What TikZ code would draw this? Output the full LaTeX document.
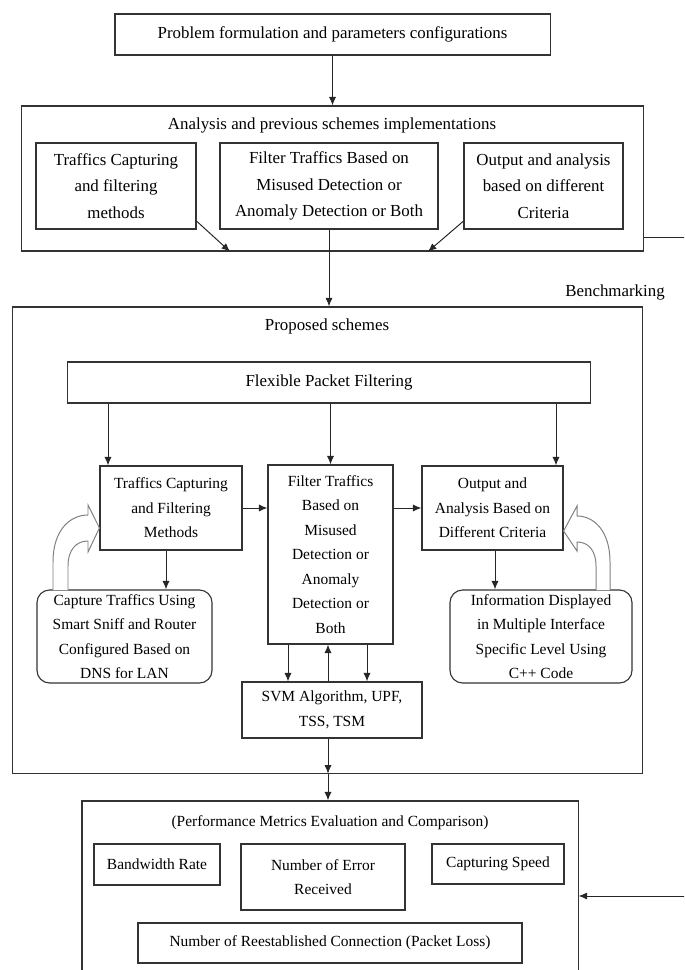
\documentclass[tikz,border=0pt]{standalone}
\usepackage{fontspec}
\setmainfont{Liberation Serif}
\usetikzlibrary{arrows.meta}

\tikzset{
  box/.style={draw=black!80, line width=0.8pt, inner sep=0pt, align=center,
    font=\fontsize{12}{19}\selectfont},
  sbox/.style={box, font=\fontsize{11}{17.4}\selectfont},
  rbox/.style={sbox, rounded corners=9pt},
  frame/.style={draw=black!80, line width=0.8pt, inner sep=0pt},
  arr/.style={draw=black!85, line width=0.7pt, -{Latex[length=6pt,width=5pt]}},
  hollow/.style={draw=black!50, line width=0.7pt, fill=white},
}

\begin{document}
\begin{tikzpicture}[x=0.025cm, y=-0.025cm]
\useasboundingbox (0,0) rectangle (684,970);
\clip (0,0) rectangle (684,970);

%% problem statement
\node[box, minimum width=10.875cm, minimum height=1.025cm] (prob) at (332.5,34.5)
  {Problem formulation and parameters configurations};

%% earlier schemes
\node[frame, minimum width=15.525cm, minimum height=3.625cm] (ana) at (332.5,178.5) {};
\node[font=\fontsize{12}{14}\selectfont] (anatitle) at (332,125)
  {Analysis and previous schemes implementations};
\node[box, minimum width=4cm, minimum height=2.15cm] (a1) at (116,186)
  {Traffics Capturing\\and filtering\\methods};
\node[box, minimum width=5.45cm, minimum height=2.15cm] (a2) at (329,186)
  {Filter Traffics Based on\\Misused Detection or\\Anomaly Detection or Both};
\node[box, minimum width=3.975cm, minimum height=2.15cm] (a3) at (543.5,186)
  {Output and analysis\\based on different\\Criteria};

\draw[arr] (prob.south) -- (prob.south |- ana.north);
\draw[arr] ([yshift=6pt]a1.south east) -- (ana.south -| 230,0);
\draw[arr] ([yshift=6pt]a3.south west) -- (ana.south -| 428,0);

\node[font=\fontsize{12}{14}\selectfont] (bench) at (615,292) {Benchmarking};

%% PROPOSED SCHEMES
\node[frame, minimum width=15.725cm, minimum height=11.65cm] (prop) at (327.5,540) {};
\node[font=\fontsize{12}{14}\selectfont] (proptitle) at (327,326) {Proposed schemes};

\draw[arr] (a2.south) -- (a2.south |- prop.north);

\node[box, minimum width=13.05cm, minimum height=1.025cm] (fpf) at (329,382.5)
  {Flexible Packet Filtering};
\node[sbox, minimum width=3.55cm, minimum height=2.1cm] (tcm) at (171,508)
  {Traffics Capturing\\and Filtering\\Methods};
\node[sbox, minimum width=3.125cm, minimum height=4.475cm] (ftb) at (330.5,554.5)
  {Filter Traffics\\Based on\\Misused\\Detection or\\Anomaly\\Detection or\\Both};
\node[sbox, minimum width=3.525cm, minimum height=2.1cm] (oad) at (492.5,508)
  {Output and\\Analysis Based on\\Different Criteria};
\node[rbox, minimum width=4.375cm, minimum height=2.325cm] (lcap) at (124.5,636.5)
  {Capture Traffics Using\\Smart Sniff and Router\\Configured Based on\\DNS for LAN};
\node[rbox, minimum width=4.55cm, minimum height=2.325cm] (rinf) at (541,636.5)
  {Information Displayed\\in Multiple Interface\\Specific Level Using\\C++ Code};
\node[sbox, minimum width=4.5cm, minimum height=1.4cm] (svm) at (332,710)
  {SVM Algorithm, UPF,\\TSS, TSM};

\draw[arr] (fpf.south -| 108,0) -- (tcm.north -| 108,0);
\draw[arr] (fpf.south -| ftb.north) -- (ftb.north);
\draw[arr] (fpf.south -| 556,0) -- (oad.north -| 556,0);
\draw[arr] (tcm.east) -- (tcm.east -| ftb.west);
\draw[arr] (ftb.east |- oad.west) -- (oad.west);
\draw[arr] (tcm.south -| 166,0) -- (lcap.north -| 166,0);
\draw[arr] (oad.south -| 495,0) -- (rinf.north -| 495,0);

% links to the SVM block
\draw[arr] (ftb.south -| 288,0) -- (svm.north -| 288,0);
\draw[arr] (svm.north -| 328,0) -- (ftb.south -| 328,0);
\draw[arr] (ftb.south -| 367,0) -- (svm.north -| 367,0);

% hollow feedback arrows
\draw[hollow] (53,590) -- (53,562) .. controls (53,530) and (70,515) .. (88,515)
  -- (88,505) -- (tcm.west |- 0,528) -- (88,552) -- (88,541)
  .. controls (76,541) and (68,550) .. (68,566) -- (68,590);
\draw[hollow] (610,590) -- (610,562) .. controls (610,531) and (594,516) .. (577,516)
  -- (577,506) -- (oad.east |- 0,531) -- (577,551) -- (577,542)
  .. controls (588,542) and (596,550) .. (596,566) -- (596,590);

%% evaluation
\node[frame, minimum width=12.4cm, minimum height=4.725cm] (perf) at (330,895.5) {};
\node[font=\fontsize{11}{13}\selectfont] (perftitle) at (330,823)
  {(Performance Metrics Evaluation and Comparison)};
\node[sbox, minimum width=3.15cm, minimum height=1.025cm] (bw) at (157,864.5) {Bandwidth Rate};
\node[sbox, minimum width=4.1cm, minimum height=1.65cm] (err) at (323,877)
  {Number of Error\\Received};
\node[sbox, minimum width=3.3cm, minimum height=1cm] (spd) at (498,864) {Capturing Speed};
\node[sbox, minimum width=9.6cm, minimum height=1cm] (rec) at (330,943)
  {Number of Reestablished Connection (Packet Loss)};

\draw[arr] (svm.south -| 328,0) -- (prop.south -| 328,0);
\draw[arr] (prop.south -| 328,0) -- (perf.north -| 328,0);

% benchmarking loop
\draw[arr] (ana.east |- 0,237) -- (720,237) |- (perf.east |- 0,896);

\end{tikzpicture}
\end{document}
